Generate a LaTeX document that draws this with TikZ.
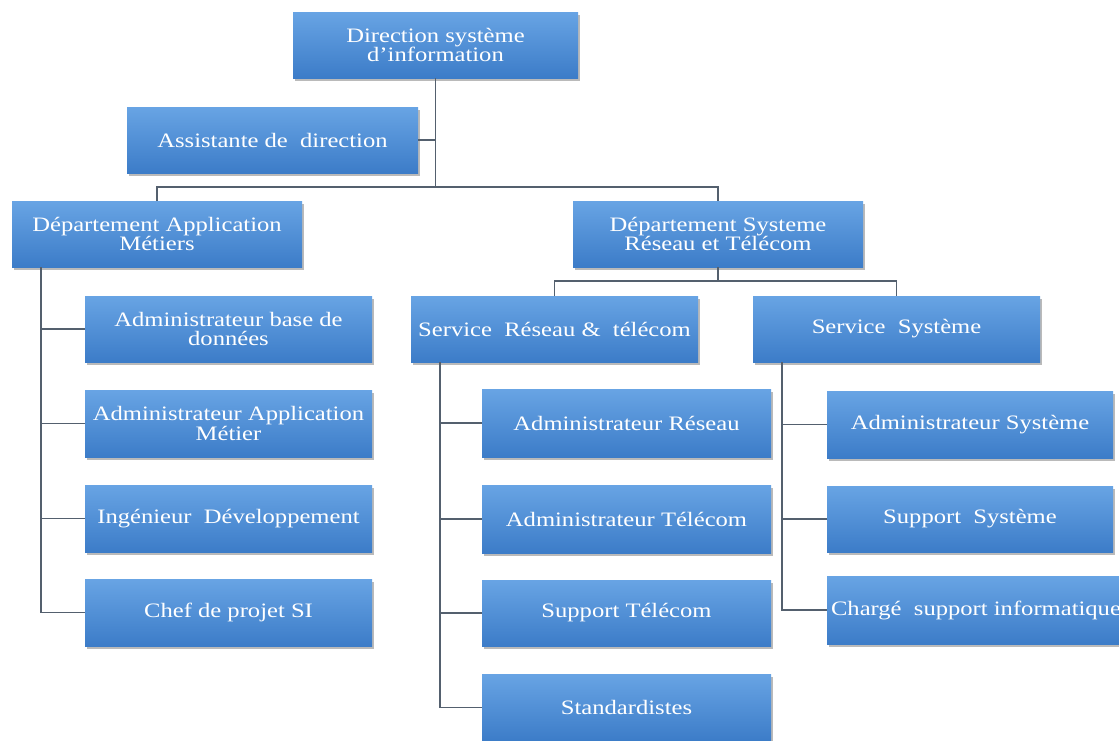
\documentclass[tikz,border=0pt]{standalone}
\usepackage{fontspec}
\setmainfont[FakeStretch=1.2]{Liberation Serif}
\usetikzlibrary{shadows}
\definecolor{boxtop}{RGB}{104,164,228}
\definecolor{boxbot}{RGB}{60,124,200}
\definecolor{linec}{RGB}{84,96,110}
\tikzset{
  box/.style={rectangle, draw=none, top color=boxtop, bottom color=boxbot,
    drop shadow={shadow xshift=1.5pt, shadow yshift=-2.5pt, opacity=0.45, fill=black!60},
    text=white, align=center, inner sep=0pt,
    font=\fontsize{20.5}{19.5}\selectfont},
  conn/.style={draw=linec, line width=1.3pt}
}
\newcommand\bx[6]{\node[box, minimum width={(#4-#2)*1pt}, minimum height={(#5-#3)*1pt}] (#1) at ({(#2+#4)/2},{(#3+#5)/2}) {#6};}
\begin{document}
\begin{tikzpicture}[x=1pt,y=-1pt]
\fill[white] (0,0) rectangle (1119,740);
\useasboundingbox (0,0) rectangle (1119,740);
% level 0
\bx{dir}{293}{12}{578}{78}{Direction système\\ d'information}
\bx{asst}{127}{107}{418}{173}{Assistante de~ direction}
% level 1
\bx{dam}{12}{201}{302}{267}{Département Application\\ Métiers}
\bx{dsrt}{573}{201}{863}{267}{Département Systeme\\ Réseau et Télécom}
% level 2
\bx{srt}{411}{296}{698}{362}{Service~ Réseau \&~ télécom}
\bx{ss}{753}{296}{1040}{362}{Service~ Système}
% left children
\bx{a1}{85}{296}{372}{362}{Administrateur base de\\ données}
\bx{a2}{85}{390}{372}{457}{Administrateur Application\\ Métier}
\bx{a3}{85}{485}{372}{552}{Ingénieur~ Développement}
\bx{a4}{85}{579}{372}{646}{Chef de projet SI}
% middle children
\bx{m1}{482}{389}{771}{457}{Administrateur Réseau}
\bx{m2}{482}{485}{771}{553}{Administrateur Télécom}
\bx{m3}{482}{580}{771}{646}{Support Télécom}
\bx{m4}{482}{674}{771}{741}{Standardistes}
% right children
\bx{r1}{827}{391}{1113}{458}{Administrateur Système}
\bx{r2}{827}{486}{1113}{552}{Support~ Système}
\bx{r3}{827}{576}{1125}{644}{Chargé~ support informatique}
% coordinates
\coordinate (bus1) at (0,187);
\coordinate (bus2) at (0,281);
\coordinate (lt) at (41,267);
\coordinate (mt) at (440,362);
\coordinate (rt) at (782,362);
% connectors
\draw[conn] (dir.south) -- (dir.south |- bus1);
\draw[conn] (asst.east) -- (asst.east -| dir.south);
\draw[conn] (dam.north) |- (dir.south |- bus1) -| (dsrt.north);
\draw[conn] (dsrt.south) -- (dsrt.south |- bus2);
\draw[conn] (srt.north) |- (dsrt.south |- bus2) -| (ss.north);
\draw[conn] (lt) |- (a4.west);
\draw[conn] (lt |- a1.west) -- (a1.west);
\draw[conn] (lt |- a2.west) -- (a2.west);
\draw[conn] (lt |- a3.west) -- (a3.west);
\draw[conn] (mt) |- (m4.west);
\draw[conn] (mt |- m1.west) -- (m1.west);
\draw[conn] (mt |- m2.west) -- (m2.west);
\draw[conn] (mt |- m3.west) -- (m3.west);
\draw[conn] (rt) |- (r3.west);
\draw[conn] (rt |- r1.west) -- (r1.west);
\draw[conn] (rt |- r2.west) -- (r2.west);
\end{tikzpicture}
\end{document}
